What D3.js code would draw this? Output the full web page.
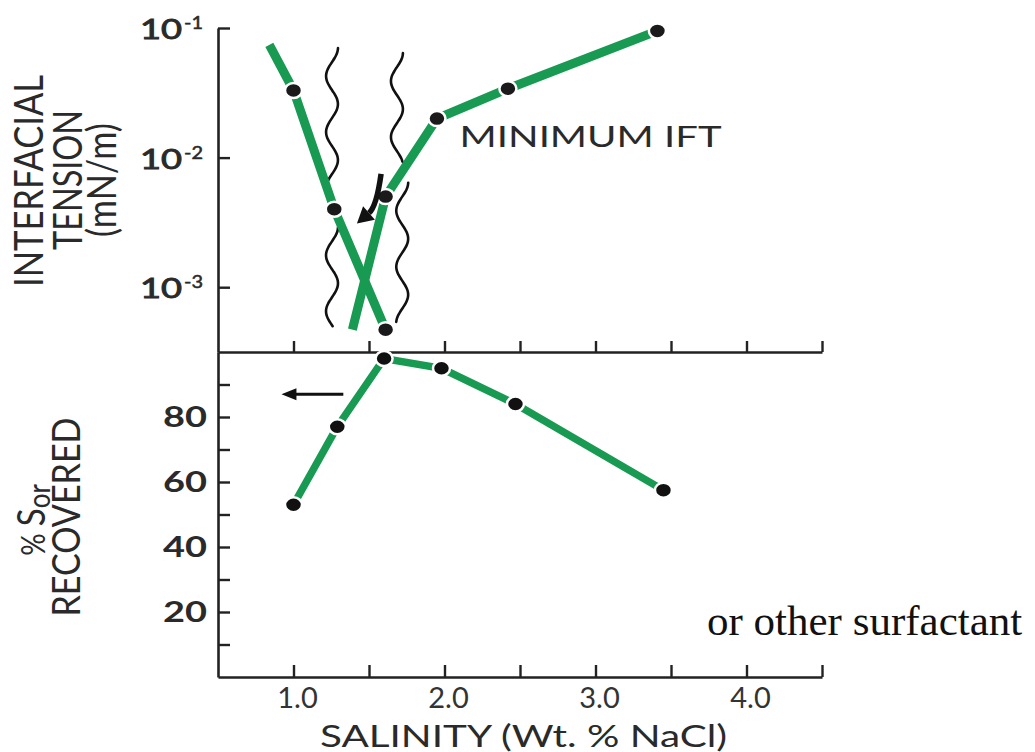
<!DOCTYPE html>
<html>
<head>
<meta charset="utf-8">
<script src="https://cdn.jsdelivr.net/npm/d3@7"></script>
<style>
  body { margin: 0; background: #fff; }
  svg { display: block; }
</style>
</head>
<body>
<svg id="chart" width="1035" height="752"></svg>
<script>
// ---- data -------------------------------------------------------------
// Interfacial tension falling with salinity (first point = open line end)
const iftFallSalinity = [0.84, 1.0, 1.27, 1.61];
const iftFallValues   = [0.074, 0.033, 0.0040, 0.00047];
const iftFallMarked   = [false, true, true, true];

// Interfacial tension rising with salinity (first point = open line end)
const iftRiseSalinity = [1.39, 1.61, 1.95, 2.42, 3.41];
const iftRiseValues   = [0.00047, 0.0050, 0.020, 0.034, 0.095];
const iftRiseMarked   = [false, true, true, true, true];

// Residual oil recovered
const recoverySalinity = [1.0, 1.29, 1.60, 1.98, 2.47, 3.45];
const recoveryValues   = [53, 77, 98, 95, 84, 57.5];

// Axis ticks and labels
const salinityTicks  = [1.0, 1.5, 2.0, 2.5, 3.0, 3.5, 4.0, 4.5];
const salinityLabels = ["1.0", "2.0", "3.0", "4.0"];
const iftTicks       = [1e-1, 1e-2, 1e-3];
const iftExponents   = ["-1", "-2", "-3"];
const recoveryTicks  = [10, 20, 30, 40, 50, 60, 70, 80, 90];
const recoveryLabels = [20, 40, 60, 80];

// Wavy phase-boundary marks: [salinity, IFT top, IFT bottom]
const boundaryWaves = [
  [1.255, 0.070, 0.0050],
  [1.255, 0.0029, 0.00050],
  [1.685, 0.064, 0.0093],
  [1.72, 0.0064, 0.00054]
];
// Curved arrow toward the minimum: start, control, tip (salinity, IFT)
const curvedArrow = [[1.58, 0.0075], [1.55, 0.0042], [1.42, 0.0031]];
// Straight arrow pointing at the recovery axis: [from salinity, to salinity, recovery]
const recoveryArrow = [1.33, 0.92, 87];

// ---- layout ------------------------------------------------------------
const svg = d3.select("#chart");
const GREEN = "#189a52";
const INK = "#222";

const x = d3.scaleLinear().domain([0.5, 4.5]).range([218, 822]);
const yIft = d3.scaleLog().domain([Math.pow(10, -3.5), 1e-1]).range([352, 28]);
const yRec = d3.scaleLinear().domain([0, 100]).range([677, 352]);

// ---- axes --------------------------------------------------------------
function styleAxis(g) {
  g.selectAll("path.domain").attr("stroke", INK).attr("stroke-width", 2.6);
  g.selectAll(".tick line").attr("stroke", INK).attr("stroke-width", 2.4);
  g.selectAll(".tick text").remove();
}

// bottom salinity axis, ticks pointing up
svg.append("g")
  .attr("transform", `translate(0,${yRec(0)})`)
  .call(d3.axisBottom(x).tickValues(salinityTicks).tickSize(-12).tickSizeOuter(0))
  .call(styleAxis);

// middle axis separating the two panels
svg.append("g")
  .attr("transform", `translate(0,${yRec(100)})`)
  .call(d3.axisBottom(x).tickValues(salinityTicks).tickSize(-11).tickSizeOuter(0))
  .call(styleAxis);

// left axis, recovery panel
svg.append("g")
  .attr("transform", `translate(${x(0.5)},0)`)
  .call(d3.axisLeft(yRec).tickValues(recoveryTicks).tickSize(-12).tickSizeOuter(0))
  .call(styleAxis);

// left axis, IFT panel
svg.append("g")
  .attr("transform", `translate(${x(0.5)},0)`)
  .call(d3.axisLeft(yIft).tickValues(iftTicks).tickSize(-12).tickSizeOuter(0))
  .call(styleAxis);

// ---- tick labels -------------------------------------------------------
const labelFont = "Lato, 'Open Sans', sans-serif";

svg.append("g").selectAll("text")
  .data(salinityLabels)
  .join("text")
  .attr("x", d => x(+d) + 4)
  .attr("y", yRec(0) + 31)
  .attr("text-anchor", "middle")
  .attr("font-family", labelFont)
  .attr("font-size", 29)
  .attr("fill", "#333")
  .text(d => d);

svg.append("g").selectAll("text")
  .data(recoveryLabels)
  .join("text")
  .attr("x", x(0.5) - 11)
  .attr("y", d => yRec(d) + 10)
  .attr("text-anchor", "end")
  .attr("font-family", labelFont)
  .attr("font-weight", 700)
  .attr("font-size", 28)
  .attr("textLength", 44)
  .attr("lengthAdjust", "spacingAndGlyphs")
  .attr("fill", "#2a2a2a")
  .text(d => d);

const iftLab = svg.append("g").selectAll("g")
  .data(iftTicks)
  .join("g");
iftLab.append("text")
  .attr("x", 140)
  .attr("y", d => yIft(d) + 11)
  .attr("font-family", labelFont)
  .attr("font-weight", 400)
  .attr("font-size", 27)
  .attr("textLength", 42)
  .attr("lengthAdjust", "spacingAndGlyphs")
  .attr("fill", "#2a2a2a")
  .attr("stroke", "#2a2a2a")
  .attr("stroke-width", 0.9)
  .text("10");
iftLab.append("text")
  .attr("x", 184)
  .attr("y", d => yIft(d) + 1)
  .attr("font-family", labelFont)
  .attr("font-weight", 400)
  .attr("font-size", 17)
  .attr("textLength", 19)
  .attr("lengthAdjust", "spacingAndGlyphs")
  .attr("fill", "#2a2a2a")
  .attr("stroke", "#2a2a2a")
  .attr("stroke-width", 0.5)
  .text((d, i) => iftExponents[i]);

// ---- axis titles -------------------------------------------------------
function vText(cx, cy, str, size, len) {
  return svg.append("text")
    .attr("transform", `translate(${cx},${cy}) rotate(-90) scale(1,1.18)`)
    .attr("text-anchor", "middle")
    .attr("font-family", labelFont)
    .attr("font-size", size)
    .attr("textLength", len)
    .attr("lengthAdjust", "spacingAndGlyphs")
    .attr("fill", "#2a2a2a")
    .text(str);
}
vText(43, 181, "INTERFACIAL", 34, 212);
vText(82, 180, "TENSION", 34, 140);
vText(116, 180, "(mN/m)", 34, 114);
vText(80, 517, "RECOVERED", 33, 199);

const sor = svg.append("text")
  .attr("transform", `translate(45,520) rotate(-90) scale(1,1.15)`)
  .attr("text-anchor", "middle")
  .attr("font-family", labelFont)
  .attr("font-size", 33)
  .attr("fill", "#2a2a2a");
sor.append("tspan").attr("font-size", 28).text("% ");
sor.append("tspan").text("S");
sor.append("tspan").attr("dy", 4).attr("font-size", 26).text("or");

svg.append("text")
  .attr("x", 320).attr("y", 747)
  .attr("font-family", labelFont)
  .attr("font-size", 30)
  .attr("textLength", 407)
  .attr("lengthAdjust", "spacingAndGlyphs")
  .attr("fill", "#2a2a2a")
  .text("SALINITY (Wt. % NaCl)");

svg.append("text")
  .attr("x", x(2.1)).attr("y", 147)
  .attr("font-family", labelFont)
  .attr("font-size", 28)
  .attr("textLength", 262)
  .attr("lengthAdjust", "spacingAndGlyphs")
  .attr("fill", "#2a2a2a")
  .text("MINIMUM IFT");

svg.append("text")
  .attr("x", 707).attr("y", 635)
  .attr("font-family", "'Liberation Serif', 'Times New Roman', serif")
  .attr("font-size", 43)
  .attr("fill", "#111")
  .text("or other surfactant");

// ---- wavy boundary marks ----------------------------------------------
const waveLine = d3.line().curve(d3.curveBasis);
boundaryWaves.forEach(([s, top, bot]) => {
  const cx = x(s), y0 = yIft(top), y1 = yIft(bot);
  const pts = d3.range(0, 61).map(i => {
    const yy = y0 + (y1 - y0) * i / 60;
    return [cx + 6 * Math.cos(2 * Math.PI * (yy - y0) / 56), yy];
  });
  svg.append("path")
    .attr("d", waveLine(pts))
    .attr("fill", "none")
    .attr("stroke", "#111")
    .attr("stroke-width", 2.6)
    .attr("stroke-linecap", "round");
});

// ---- IFT curves ----------------------------------------------------------
const iftLine = d3.line().x(d => x(d[0])).y(d => yIft(d[1]));
const fall = iftFallSalinity.map((s, i) => [s, iftFallValues[i], iftFallMarked[i]]);
const rise = iftRiseSalinity.map((s, i) => [s, iftRiseValues[i], iftRiseMarked[i]]);

[fall, rise].forEach(series => {
  svg.append("path")
    .attr("d", iftLine(series))
    .attr("fill", "none")
    .attr("stroke", GREEN)
    .attr("stroke-width", 9);
});
[fall, rise].forEach(series => {
  svg.append("g").selectAll("ellipse")
    .data(series.filter(d => d[2]))
    .join("ellipse")
    .attr("cx", d => x(d[0]))
    .attr("cy", d => yIft(d[1]))
    .attr("rx", 8.5).attr("ry", 7.5)
    .attr("fill", "#1a1a1a")
    .attr("stroke", "#fff")
    .attr("stroke-width", 2.5);
});

// ---- recovery curve ------------------------------------------------------
const rec = recoverySalinity.map((s, i) => [s, recoveryValues[i]]);
svg.append("path")
  .attr("d", d3.line().x(d => x(d[0])).y(d => yRec(d[1]))(rec))
  .attr("fill", "none")
  .attr("stroke", GREEN)
  .attr("stroke-width", 7.5);
svg.append("g").selectAll("ellipse")
  .data(rec)
  .join("ellipse")
  .attr("cx", d => x(d[0]))
  .attr("cy", d => yRec(d[1]))
  .attr("rx", 8.5).attr("ry", 7.5)
  .attr("fill", "#111")
  .attr("stroke", "#fff")
  .attr("stroke-width", 2.5);

// ---- arrows ----------------------------------------------------------------
const [a0, a1, a2] = curvedArrow.map(d => [x(d[0]), yIft(d[1])]);
const ang = Math.atan2(a2[1] - a1[1], a2[0] - a1[0]);
const headLen = 16, headW = 9;
const base = [a2[0] - headLen * Math.cos(ang), a2[1] - headLen * Math.sin(ang)];
svg.append("path")
  .attr("d", `M${a0[0]},${a0[1]} Q${a1[0]},${a1[1]} ${base[0]},${base[1]}`)
  .attr("fill", "none")
  .attr("stroke", "#111")
  .attr("stroke-width", 5.5);
svg.append("path")
  .attr("d", `M${a2[0]},${a2[1]}
    L${base[0] + headW * Math.sin(ang)},${base[1] - headW * Math.cos(ang)}
    L${base[0] - headW * Math.sin(ang)},${base[1] + headW * Math.cos(ang)}Z`)
  .attr("fill", "#111");

const [rFrom, rTo, rVal] = recoveryArrow;
const ry = yRec(rVal);
svg.append("line")
  .attr("x1", x(rFrom)).attr("y1", ry)
  .attr("x2", x(rTo) + 12).attr("y2", ry)
  .attr("stroke", "#111").attr("stroke-width", 3);
svg.append("path")
  .attr("d", `M${x(rTo)},${ry} L${x(rTo) + 15},${ry - 6} L${x(rTo) + 15},${ry + 6}Z`)
  .attr("fill", "#111");
</script>
</body>
</html>
